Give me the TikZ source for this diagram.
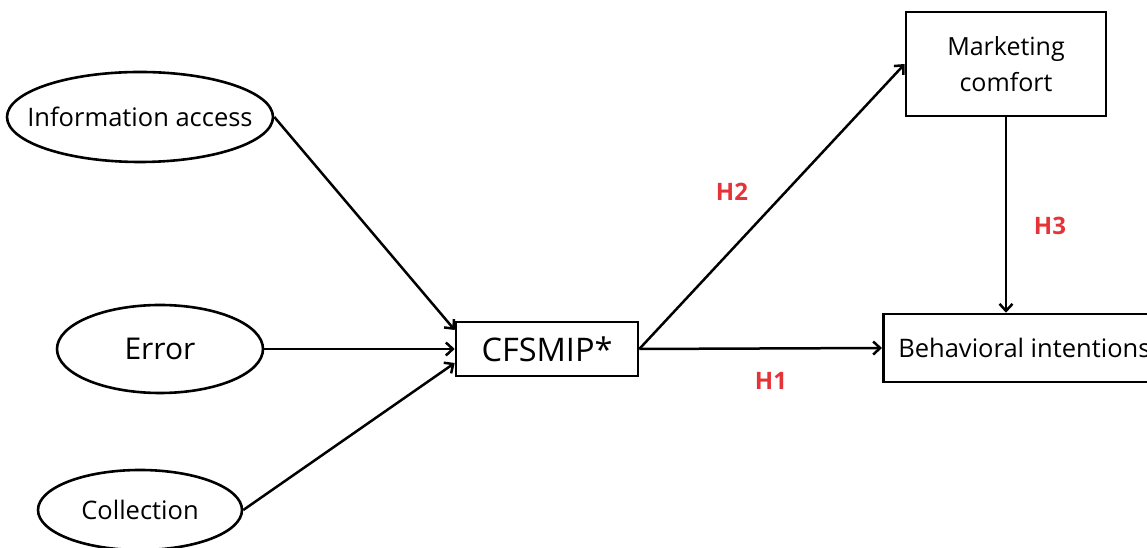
\documentclass[tikz,border=0pt]{standalone}
\usepackage{fontspec}
\setmainfont{Open Sans}
\usetikzlibrary{shapes.geometric,arrows.meta}
\definecolor{hred}{RGB}{228,52,56}
\tikzset{
  x=1pt,y=1pt,
  oval/.style={ellipse,draw,line width=2.6pt,inner sep=0pt},
  boxnode/.style={rectangle,draw,line width=2.6pt,inner sep=0pt},
  link/.style={line width=2.5pt,-{Straight Barb[length=7pt,width=13pt,line width=2.5pt]}},
  hyp/.style={text=hred,font=\bfseries\fontsize{24}{26}\selectfont}
}
\begin{document}
\begin{tikzpicture}
\useasboundingbox (0,0) rectangle (1147,548);
% constructs
\node[oval,inner xsep=-19pt,minimum width=266pt,minimum height=90pt,font=\fontsize{25.5}{28}\selectfont] (info) at (140,431) {Information access};
\node[oval,minimum width=206pt,minimum height=88pt,font=\fontsize{30}{32}\selectfont] (err) at (160,199) {Error};
\node[oval,minimum width=204pt,minimum height=80pt,font=\fontsize{25.5}{28}\selectfont] (coll) at (140,38) {Collection};
\node[boxnode,minimum width=182pt,minimum height=54pt,font=\fontsize{32.5}{36}\selectfont] (cf) at (547,199) {CFSMIP*};
\node[boxnode,minimum width=200pt,minimum height=104pt,align=center,font=\fontsize{25}{36}\selectfont] (mc) at (1006,484) {Marketing\\comfort};
\node[boxnode,anchor=west,minimum height=68pt,inner xsep=15pt,font=\fontsize{25.5}{28}\selectfont] (bi) at (882,200) {Behavioral intentions};
% paths
\draw[link] (info.east) -- ([yshift=19pt]cf.west);
\draw[link] (err.east) -- (cf.west);
\draw[link] (coll.east) -- ([yshift=-14pt]cf.west);
\draw[link] (cf.east) -- (mc.west);
\draw[link] (cf.east) -- (bi.west);
\draw[link] (mc.south) -- (mc.south |- bi.north);
% hypothesis labels
\node[hyp] (h2) at (732,356) {H2};
\node[hyp] (h3) at (1050,322) {H3};
\node[hyp] (h1) at (771,167) {H1};
\end{tikzpicture}
\end{document}
